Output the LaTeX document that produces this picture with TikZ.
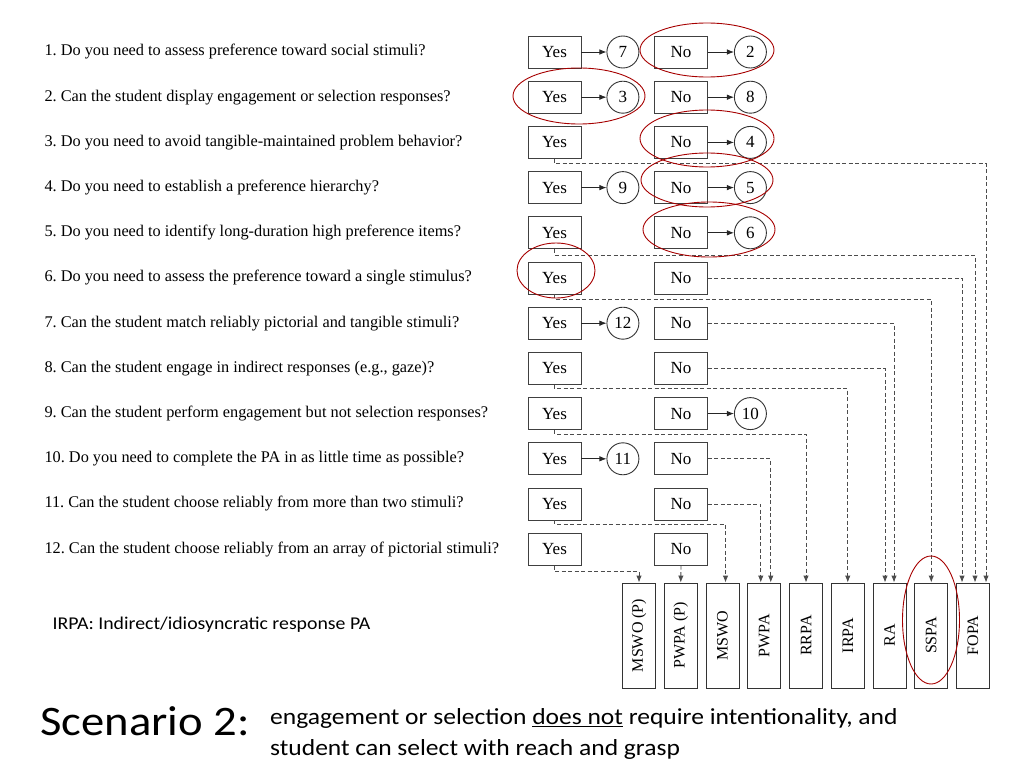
\documentclass[tikz,border=0pt]{standalone}
\usepackage{fontspec}
\usepackage{graphicx}
\setmainfont{Liberation Serif}
\newfontfamily\slidefont{Carlito}
\usetikzlibrary{arrows.meta, positioning}
\frenchspacing

\begin{document}
\begin{tikzpicture} [
						x=1pt, y=-1pt,
						font=\fontsize{17}{20}\selectfont,
						answer/.style={draw=black!75, line width=0.9pt, minimum width=53pt, minimum height=32pt, inner sep=0pt},
						outcome/.style={draw=black!80, line width=0.9pt, circle, minimum size=32pt, inner sep=0pt},
						method/.style={draw=black!80, line width=0.9pt, minimum width=33pt, minimum height=105pt, inner sep=0pt,
							font=\fontsize{16}{18}\selectfont},
						goto/.style={-{Latex[length=7pt,width=5.5pt]}, black!85, line width=0.8pt},
						route/.style={goto, dash pattern=on 4pt off 2.5pt, black!70, line width=0.9pt},
						circled/.style={draw=red!65!black, line width=0.9pt}
					]

\useasboundingbox (0,0) rectangle (1024,768);

% questions with their yes / no boxes
\foreach \i/\q in {
	1/{1. Do you need to assess preference toward social stimuli?},
	2/{2. Can the student display engagement or selection responses?},
	3/{3. Do you need to avoid tangible-maintained problem behavior?},
	4/{4. Do you need to establish a preference hierarchy?},
	5/{5. Do you need to identify long-duration high preference items?},
	6/{6. Do you need to assess the preference toward a single stimulus?},
	7/{7. Can the student match reliably pictorial and tangible stimuli?},
	8/{8. Can the student engage in indirect responses (e.g., gaze)?},
	9/{9. Can the student perform engagement but not selection responses?},
	10/{10. Do you need to complete the PA in as little time as possible?},
	11/{11. Can the student choose reliably from more than two stimuli?},
	12/{12. Can the student choose reliably from an array of pictorial stimuli?}} {
	\pgfmathsetmacro\ry{52+(\i-1)*45.2}
	\node (q\i) [anchor=west, font=\fontsize{16.3}{19}\selectfont] at (41,\ry) {\q};
	\node (y\i) [answer] at (554.5,\ry) {Yes};
	\node (n\i) [answer] at (681,\ry) {No};
}

% next question to go to
\node (c7)  [outcome, right=25pt of y1]  {7};
\node (c3)  [outcome, right=25pt of y2]  {3};
\node (c9)  [outcome, right=25pt of y4]  {9};
\node (c12) [outcome, right=25pt of y7]  {12};
\node (c11) [outcome, right=25pt of y10] {11};
\node (c2)  [outcome, right=26pt of n1]  {2};
\node (c8)  [outcome, right=26pt of n2]  {8};
\node (c4)  [outcome, right=26pt of n3]  {4};
\node (c5)  [outcome, right=26pt of n4]  {5};
\node (c6)  [outcome, right=26pt of n5]  {6};
\node (c10) [outcome, right=26pt of n9]  {10};

\path[goto]
	(y1)  edge (c7)
	(y2)  edge (c3)
	(y4)  edge (c9)
	(y7)  edge (c12)
	(y10) edge (c11)
	(n1)  edge (c2)
	(n2)  edge (c8)
	(n3)  edge (c4)
	(n4)  edge (c5)
	(n5)  edge (c6)
	(n9)  edge (c10);

% assessment methods
\foreach \nm/\lbl [count=\k from 0] in {mswop/MSWO (P), pwpap/PWPA (P), mswo/MSWO, pwpa/PWPA,
		rrpa/RRPA, irpa/IRPA, ra/RA, sspa/SSPA, fopa/FOPA}
	\node (\nm) [method] at (639+\k*41.75,635.5) {\rotatebox{90}{\lbl}};

% dashed routes to the methods
\draw[route] (y3.south)  -- ++(0,5) -| ([xshift=13pt]fopa.north);
\draw[route] (y5.south)  -- ++(0,6) -| ([xshift=2pt]fopa.north);
\draw[route] (n6.east)   -| ([xshift=-11pt]fopa.north);
\draw[route] (y6.south)  -- ++(0,5) -| (sspa.north);
\draw[route] (n7.east)   -| ([xshift=4.5pt]ra.north);
\draw[route] (n8.east)   -| ([xshift=-4.5pt]ra.north);
\draw[route] (y8.south)  -- ++(0,4) -| (irpa.north);
\draw[route] (y9.south)  -- ++(0,4) -| (rrpa.north);
\draw[route] (n10.east)  -| ([xshift=6.5pt]pwpa.north);
\draw[route] (n11.east)  -| ([xshift=-3.5pt]pwpa.north);
\draw[route] (y11.south) -- ++(0,4) -| ([xshift=3pt]mswo.north);
\draw[route] (y12.south) -- ++(0,6) -| (mswop.north);
\draw[route] (n12.south) -- (pwpap.north);

% the chosen path
\draw[circled] (707,50) ellipse (67 and 27);
\draw[circled] (579,96) ellipse (66 and 28);
\draw[circled] (707,138.5) ellipse (67 and 28.5);
\draw[circled] (707,180) ellipse (66 and 27);
\draw[circled] (709,229.5) ellipse (66 and 27.5);
\draw[circled] (556,270.5) ellipse (39 and 27.5);
\draw[circled] (931,620) ellipse (28.5 and 64);

% notes
\node (key) [anchor=west, font=\slidefont\fontsize{18}{21}\selectfont] at (49,625)
	{\scalebox{1.1}[1]{IRPA: Indirect/idiosyncratic response PA}};
\node (title) [anchor=west, font=\slidefont\fontsize{42}{48}\selectfont] at (37,721)
	{\scalebox{1.11}[1]{Scenario 2:}};
\node (scene) [anchor=north west, inner sep=0pt, font=\slidefont\fontsize{23}{31}\selectfont] at (270,703)
	{\scalebox{1.11}[1]{\begin{tabular}{@{}l@{}}
		engagement or selection \underline{does not} require intentionality, and\\
		student can select with reach and grasp
	\end{tabular}}};
\end{tikzpicture}
\end{document}
